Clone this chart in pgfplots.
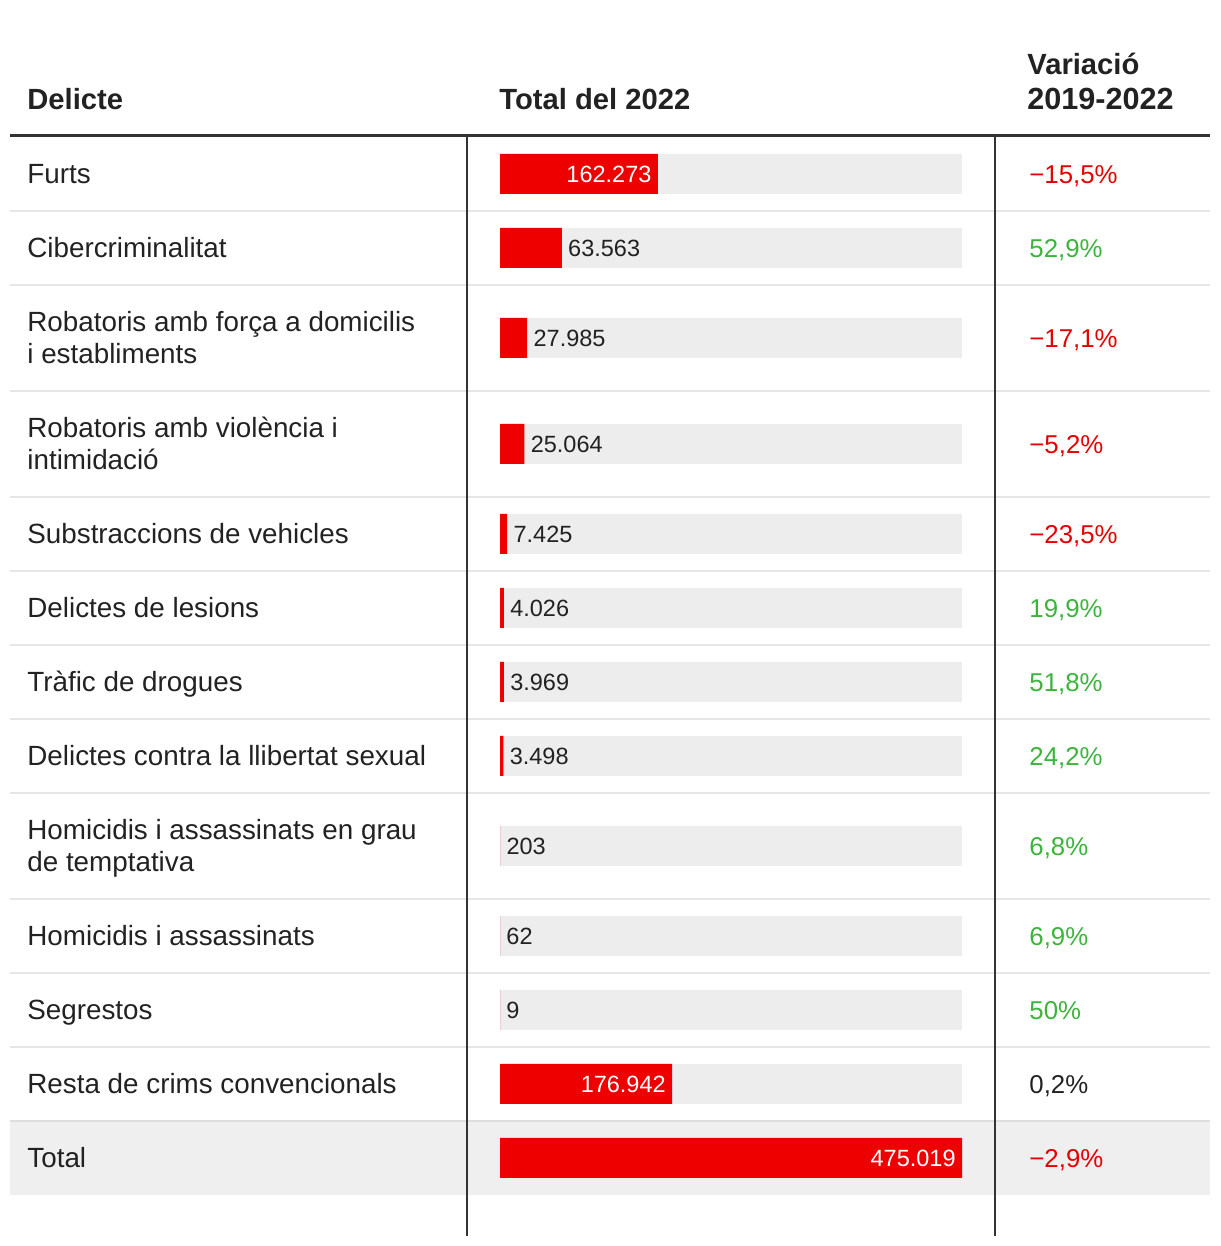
\documentclass[border=0pt]{standalone}
\usepackage{pgfplots}
\pgfplotsset{compat=1.18}
\usepackage{pgfplotstable}
\usepackage{fontspec}
\setmainfont{Liberation Sans}
\definecolor{barred}{HTML}{EE0000}
\definecolor{bggrey}{HTML}{EDEDED}
\definecolor{rowgrey}{HTML}{EFEFEF}
\definecolor{sep}{HTML}{E6E6E6}
\definecolor{ink}{HTML}{222222}
\definecolor{rule}{HTML}{333333}
\definecolor{neg}{HTML}{E60000}
\definecolor{pos}{HTML}{3CB43C}

% y = vertical position of the row (pixels from the bottom of the picture)
\pgfplotstableread{
y v
1072 475019
998 475019
908 475019
802 475019
712 475019
638 475019
564 475019
490 475019
400 475019
310 475019
236 475019
162 475019
88 475019
}\full
\pgfplotstableread{
y v lab
1072 162273 162.273
162 176942 176.942
88 475019 475.019
}\inbar
\pgfplotstableread{
y v lab
998 63563 63.563
908 27985 27.985
802 25064 25.064
712 7425 7.425
638 4026 4.026
564 3969 3.969
490 3498 3.498
400 203 203
310 62 62
236 9 9
}\outbar

\newcommand{\rowfont}{\fontsize{13.9}{16}\selectfont}
\newcommand{\pctfont}{\fontsize{12.9}{16}\selectfont}
\newcommand{\hdfont}{\fontsize{14.6}{18}\selectfont\bfseries}

\begin{document}
\begin{tikzpicture}
\begin{scope}[x=0.5pt,y=-0.5pt,shift={(0pt,623pt)}]
  \path (0,0) rectangle (1220,1246);
  \fill[rowgrey] (10,1121) rectangle (1210,1195);
  \foreach \yy in {211,285,391,497,571,645,719,793,899,973,1047}
    \draw[sep,line width=1pt] (10,\yy) -- (1210,\yy);
  \draw[color=black!13,line width=1.2pt] (10,1121) -- (1210,1121);
\end{scope}

\begin{axis}[at={(0pt,0pt)},anchor=south west,scale only axis,
  width=610pt,height=623pt,
  xmin=-514090.9,xmax=740288.3,ymin=0,ymax=1246,
  hide axis,clip=false,xbar,bar width=40,bar shift=0pt]
\addplot[fill=bggrey,draw=none] table[x=v,y=y]{\full};
\addplot[fill=barred,draw=none,nodes near coords,point meta=explicit symbolic,
  every node near coord/.append style={anchor=east,xshift=-3pt,text=white,inner sep=0pt,
  font=\fontsize{11.75}{12}\selectfont}]
  table[x=v,y=y,meta=lab]{\inbar};
\addplot[fill=barred,draw=none,nodes near coords,point meta=explicit symbolic,
  every node near coord/.append style={anchor=west,xshift=3pt,text=ink,inner sep=0pt,
  font=\fontsize{11.75}{12}\selectfont}]
  table[x=v,y=y,meta=lab]{\outbar};
\end{axis}

\begin{scope}[x=0.5pt,y=-0.5pt,shift={(0pt,623pt)},
  every node/.style={anchor=base west,inner sep=0pt,text=ink}]
  \draw[rule,line width=1.5pt] (10,136) -- (1210,136);
  \draw[rule,line width=0.75pt] (467,137) -- (467,1236);
  \draw[rule,line width=0.75pt] (995,137) -- (995,1236);
  % header
  \node[font=\hdfont] at (27,110) {Delicte};
  \node[font=\hdfont] at (499,110) {Total del 2022};
  \node[font=\hdfont] at (1027,75) {Variació};
  \node[font=\fontsize{15.3}{18}\selectfont\bfseries] at (1027,110) {2019-2022};
  % row labels
  \begin{scope}[every node/.append style={font=\rowfont}]
  \node at (27,184) {Furts};
  \node at (27,258) {Cibercriminalitat};
  \node at (27,332) {Robatoris amb força a domicilis};
  \node at (27,364) {i establiments};
  \node at (27,438) {Robatoris amb violència i};
  \node at (27,470) {intimidació};
  \node at (27,544) {Substraccions de vehicles};
  \node at (27,618) {Delictes de lesions};
  \node at (27,692) {Tràfic de drogues};
  \node at (27,766) {Delictes contra la llibertat sexual};
  \node at (27,840) {Homicidis i assassinats en grau};
  \node at (27,872) {de temptativa};
  \node at (27,946) {Homicidis i assassinats};
  \node at (27,1020) {Segrestos};
  \node at (27,1094) {Resta de crims convencionals};
  \node at (27,1168) {Total};
  \end{scope}
  % variation
  \begin{scope}[every node/.append style={font=\pctfont}]
  \node[text=neg] at (1029,184) {−15,5\%};
  \node[text=pos] at (1029,258) {52,9\%};
  \node[text=neg] at (1029,348) {−17,1\%};
  \node[text=neg] at (1029,454) {−5,2\%};
  \node[text=neg] at (1029,544) {−23,5\%};
  \node[text=pos] at (1029,618) {19,9\%};
  \node[text=pos] at (1029,692) {51,8\%};
  \node[text=pos] at (1029,766) {24,2\%};
  \node[text=pos] at (1029,856) {6,8\%};
  \node[text=pos] at (1029,946) {6,9\%};
  \node[text=pos] at (1029,1020) {50\%};
  \node[text=ink] at (1029,1094) {0,2\%};
  \node[text=neg] at (1029,1168) {−2,9\%};
  \end{scope}
\end{scope}
\end{tikzpicture}
\end{document}
